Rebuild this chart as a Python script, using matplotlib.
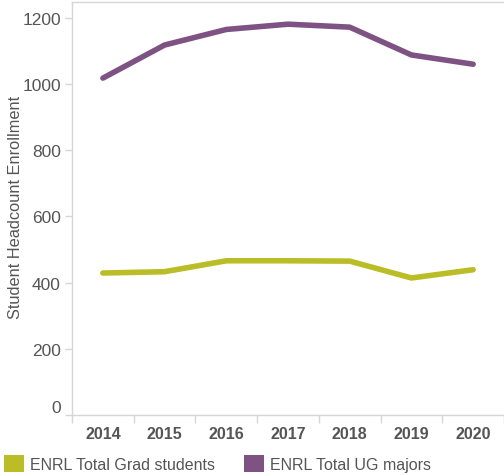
import matplotlib
matplotlib.use("Agg")
import matplotlib.pyplot as plt
from matplotlib.patches import Patch

plt.rcParams["font.family"] = ["Liberation Sans", "DejaVu Sans"]

years = ["2014", "2015", "2016", "2017", "2018", "2019", "2020"]
grad_students = [429, 433, 466, 466, 465, 414, 439]
ug_majors = [1018, 1118, 1165, 1181, 1172, 1088, 1060]

C_GRAD = "#BABD25"
C_UG = "#7E5282"
C_AXIS = "#D6D6D6"
C_TEXT = "#555555"

fig = plt.figure(figsize=(5.04, 4.77), dpi=100)
fig.patch.set_facecolor("white")
ax = fig.add_axes([0.1429, 0.1279, 0.8571, 0.8658])

x = range(len(years))
ax.plot(x, grad_students, color=C_GRAD, linewidth=4, solid_capstyle="round",
        solid_joinstyle="round")
ax.plot(x, ug_majors, color=C_UG, linewidth=4, solid_capstyle="round",
        solid_joinstyle="round")

ax.set_xlim(-0.5, 6.5)
ax.set_ylim(0, 1248)
ax.set_yticks([0, 200, 400, 600, 800, 1000, 1200])
# band edges get the tick marks, band centres get the year labels
ax.set_xticks([i - 0.5 for i in range(len(years) + 1)], minor=False)
ax.set_xticklabels([])
ax.set_xticks(list(x), minor=True)
ax.set_xticklabels(years, minor=True, fontsize=11.5, fontweight="bold", color=C_TEXT)
ax.tick_params(axis="x", which="major", length=6, color=C_AXIS, width=1)
ax.tick_params(axis="x", which="minor", length=0, pad=8)
ax.tick_params(axis="y", length=5, color=C_AXIS, width=1, labelsize=12.5,
               labelcolor=C_TEXT, pad=3)
ax.get_yticklabels()[0].set_va("bottom")

for side in ["left", "top", "bottom"]:
    ax.spines[side].set_color(C_AXIS)
    ax.spines[side].set_linewidth(1)
ax.spines["right"].set_visible(False)

ax.set_ylabel("Student Headcount Enrollment", fontsize=11.8, color=C_TEXT)
ax.yaxis.set_label_coords(-0.132, 0.506)
ax.yaxis.label.set_va("center")

handles = [Patch(facecolor=C_GRAD, label="ENRL Total Grad students"),
           Patch(facecolor=C_UG, label="ENRL Total UG majors")]
fig.legend(handles=handles, loc="lower left", bbox_to_anchor=(0.0, 0.0),
           ncol=2, frameon=False, fontsize=11.5, handlelength=1.25,
           handleheight=1.3, handletextpad=0.4, columnspacing=1.8,
           labelcolor=C_TEXT, borderaxespad=0, borderpad=0.25)

fig.savefig("out.png", dpi=100, facecolor="white")
